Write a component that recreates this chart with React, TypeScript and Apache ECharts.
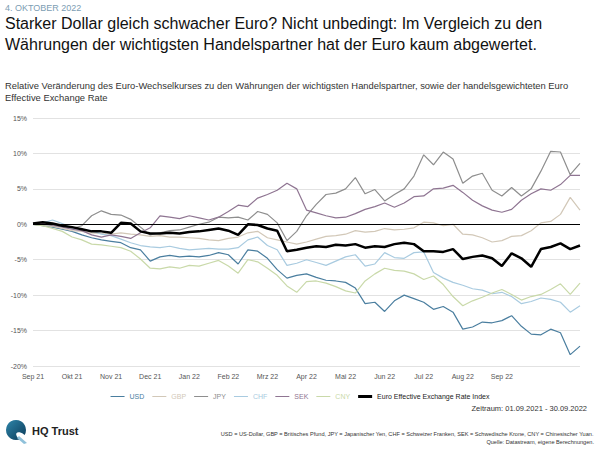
import React, { useEffect, useRef } from "react";
import * as echarts from "echarts";

const tickLabels = ["Sep 21", "Okt 21", "Nov 21", "Dec 21", "Jan 22", "Feb 22", "Mrz 22", "Apr 22", "Mai 22", "Jun 22", "Jul 22", "Aug 22", "Sep 22"];

const seriesNames = ["USD", "GBP", "JPY", "CHF", "SEK", "CNY", "Euro Effective Exchange Rate Index"];

const eer = [0.1, 0.3, 0.1, -0.2, -0.4, -0.7, -1.0, -1.0, -1.2, 0.2, 0.1, -1.0, -1.3, -1.3, -1.2, -1.3, -1.1, -1.0, -0.8, -0.6, -0.9, -1.5, 0.0, -0.1, -0.6, -0.9, -3.8, -3.6, -3.3, -3.1, -3.2, -2.9, -3.0, -2.8, -3.3, -3.1, -3.2, -2.8, -2.6, -2.8, -3.8, -3.8, -3.9, -3.5, -4.9, -4.6, -4.4, -4.8, -5.9, -4.1, -4.8, -6.0, -3.5, -3.2, -2.7, -3.5, -3.0];
const usd = [0, -0.2, -0.4, -0.7, -1.0, -1.5, -1.9, -2.2, -2.4, -2.6, -3.3, -3.6, -5.2, -4.6, -4.4, -4.6, -4.5, -4.6, -4.4, -4.0, -4.3, -5.6, -3.6, -3.8, -4.8, -6.4, -7.6, -7.2, -7.0, -7.5, -7.9, -8.0, -8.2, -9.0, -11.2, -11.0, -12.3, -10.8, -10.0, -10.5, -11.0, -12.0, -11.6, -12.4, -14.8, -14.5, -13.8, -13.9, -13.6, -12.9, -14.4, -15.5, -15.6, -14.8, -15.3, -18.4, -17.2];
const gbp = [0, -0.2, -0.3, -0.6, -0.9, -1.0, -1.2, -1.3, -1.4, -1.2, -1.4, -1.5, -1.7, -1.6, -1.8, -1.8, -1.9, -2.0, -2.2, -2.3, -2.0, -1.8, -1.2, -1.0, -1.9, -2.2, -2.5, -2.8, -2.5, -2.1, -1.7, -1.6, -1.4, -0.9, -1.1, -1.0, -0.6, -0.8, -0.7, -0.5, 0.3, 0.2, -0.2, 0.0, -1.4, -1.5, -1.9, -2.5, -2.3, -1.7, -1.6, -0.9, 0.2, 0.4, 1.4, 3.8, 2.0];
const jpy = [0, 0.1, -0.2, -0.3, -0.6, -0.2, 1.2, 1.9, 1.4, 1.3, 0.7, -0.4, -1.5, -1.2, -0.9, -0.8, -0.4, 0.0, 0.3, 1.0, 0.9, 1.0, 0.6, 1.8, 1.4, 0.2, -2.3, -1.0, 1.2, 2.8, 4.2, 4.4, 5.0, 6.6, 4.3, 4.9, 3.3, 4.2, 5.0, 6.8, 9.8, 8.4, 10.2, 9.2, 5.8, 6.8, 7.2, 4.8, 4.0, 5.2, 4.0, 5.0, 7.5, 10.3, 10.2, 7.0, 8.6];
const chf = [0, 0.2, 0.6, 0.1, -0.5, -0.8, -0.9, -1.4, -1.6, -2.1, -2.6, -3.0, -3.2, -3.3, -3.1, -3.4, -3.6, -3.5, -3.4, -3.5, -3.5, -3.3, -2.2, -1.8, -3.0, -3.6, -5.8, -5.5, -5.0, -5.4, -5.8, -5.2, -4.6, -4.3, -5.9, -5.6, -4.0, -4.7, -4.8, -4.0, -3.9, -6.8, -7.6, -8.2, -8.6, -9.1, -9.3, -9.8, -9.6, -10.2, -11.2, -10.9, -10.4, -10.6, -11.0, -12.4, -11.5];
const sek = [0, 0.1, -0.1, -0.4, -0.7, -0.9, -1.5, -1.8, -1.5, -1.7, -2.0, -1.2, -0.5, 1.2, 1.0, 0.8, 1.2, 0.9, 0.6, 1.0, 1.8, 2.7, 2.5, 3.7, 4.2, 4.8, 5.8, 5.0, 2.0, 1.6, 1.2, 0.9, 1.0, 1.5, 2.1, 2.5, 3.0, 2.4, 3.0, 3.9, 4.0, 5.0, 5.1, 5.5, 4.5, 3.4, 2.6, 2.0, 1.7, 2.1, 3.4, 4.3, 5.0, 4.8, 5.6, 6.9, 6.9];
const cny = [0, -0.2, -0.6, -1.0, -1.8, -2.2, -2.8, -2.9, -3.1, -3.3, -3.8, -4.9, -6.2, -6.3, -6.0, -6.2, -5.8, -5.9, -5.5, -5.1, -5.9, -6.9, -5.0, -5.3, -6.2, -7.2, -8.7, -9.6, -8.1, -8.0, -8.3, -8.8, -9.4, -9.7, -8.0, -7.0, -6.2, -6.5, -6.6, -7.0, -7.8, -7.3, -8.5, -10.2, -11.5, -10.8, -10.3, -9.7, -9.2, -9.9, -10.7, -10.2, -9.9, -9.2, -8.4, -9.9, -8.3];

const colors = ["#4a7e9f", "#d2c8b8", "#8e8e8e", "#a9cbe0", "#8f7592", "#c9d9a9", "#000000"];

const FONT = "'Liberation Sans', Arial, Helvetica, sans-serif";

const THIN_ICON = "path://M0,0h0.05v0.05h-0.05z M0,4.4h20v1.2h-20z M0,9.95h0.05v0.05h-0.05z";
const THICK_ICON = "path://M0,0h0.05v0.05h-0.05z M0,3h20v4h-20z M0,9.95h0.05v0.05h-0.05z";

export default function App() {
  const ref = useRef<HTMLDivElement>(null);
  useEffect(() => {
    document.body.style.margin = "0";
    if (!ref.current) return;
    const chart = echarts.init(ref.current, undefined, { renderer: "svg" });
    const values = [usd, gbp, jpy, chf, sek, cny, eer];
    const categories = usd.map((_, i) => String(i));
    const series: any[] = values.map((data, k) => ({
      name: seriesNames[k],
      type: "line",
      data,
      symbol: "none",
      showSymbol: false,
      lineStyle: { color: colors[k], width: k === 6 ? 2.5 : 1.2 },
      itemStyle: { color: colors[k] },
      z: k === 6 ? 5 : 2,
      markLine: k === 6 ? {
        silent: true,
        symbol: "none",
        label: { show: false },
        lineStyle: { color: "#000", width: 1, type: "solid" },
        data: [{ yAxis: 0 }],
      } : undefined,
    }));
    chart.setOption({
      animation: false,
      textStyle: { fontFamily: FONT },
      grid: { left: 33, right: 20, top: 118, height: 248, outerBoundsMode: "none" },
      xAxis: {
        type: "category",
        data: categories,
        boundaryGap: false,
        axisLine: { show: false },
        axisTick: { show: false },
        axisLabel: {
          interval: 0,
          fontSize: 7,
          color: "#555",
          margin: 7,
          fontFamily: FONT,
          formatter: (_v: string, idx: number) => (idx % 4 === 0 && tickLabels[idx / 4]) ? tickLabels[idx / 4] : "",
        },
        splitLine: { show: false },
      },
      yAxis: {
        type: "value",
        min: -20,
        max: 15,
        interval: 5,
        axisLine: { show: false },
        axisTick: { show: false },
        axisLabel: { fontSize: 7, color: "#555", margin: 6, formatter: "{value}%", fontFamily: FONT },
        splitLine: { lineStyle: { color: "#e2e2e2", width: 1 } },
      },
      legend: {
        left: "center",
        top: 388,
        itemWidth: 14,
        itemHeight: 8,
        itemGap: 8,
        textStyle: { fontSize: 7, fontFamily: FONT },
        data: seriesNames.map((n, k) => ({
          name: n,
          icon: k === 6 ? THICK_ICON : THIN_ICON,
          textStyle: { color: k === 6 ? "#222" : colors[k] },
        })),
      },
      graphic: [
        { type: "text", left: 5, top: 3, style: { text: "4. OKTOBER 2022", fontSize: 9, fill: "#7c9db3", fontFamily: FONT } },
        { type: "text", left: 5, top: 15, style: { text: "Starker Dollar gleich schwacher Euro? Nicht unbedingt: Im Vergleich zu den", fontSize: 16, fill: "#111", fontFamily: FONT } },
        { type: "text", left: 5, top: 36, style: { text: "Währungen der wichtigsten Handelspartner hat der Euro kaum abgewertet.", fontSize: 16, fill: "#111", fontFamily: FONT } },
        { type: "text", left: 5, top: 81, style: { text: "Relative Veränderung des Euro-Wechselkurses zu den Währungen der wichtigsten Handelspartner, sowie der handelsgewichteten Euro", fontSize: 9.4, fill: "#333", fontFamily: FONT } },
        { type: "text", left: 5, top: 93, style: { text: "Effective Exchange Rate", fontSize: 9.4, fill: "#333", fontFamily: FONT } },
        { type: "text", right: 13, top: 404, style: { text: "Zeitraum: 01.09.2021 - 30.09.2022", fontSize: 7.5, fill: "#333", fontFamily: FONT } },
        { type: "text", right: 6, top: 431, style: { text: "USD = US-Dollar, GBP = Britisches Pfund, JPY = Japanischer Yen, CHF = Schweizer Franken, SEK = Schwedische Krone, CNY = Chinesischer Yuan.", fontSize: 5.6, fill: "#333", fontFamily: FONT } },
        { type: "text", right: 6, top: 439, style: { text: "Quelle: Datastream, eigene Berechnungen.", fontSize: 5.6, fill: "#333", fontFamily: FONT } },
        {
          type: "group",
          children: [
            { type: "circle", shape: { cx: 16, cy: 430, r: 10 }, style: { fill: new echarts.graphic.LinearGradient(0, 0, 1, 1, [{ offset: 0, color: "#2f86aa" }, { offset: 1, color: "#0b3a58" }]) } },
            { type: "ellipse", shape: { cx: 22, cy: 437, rx: 6.5, ry: 3.2 }, rotation: -0.6, originX: 22, originY: 437, style: { fill: "#ffffff" } },
            { type: "polygon", shape: { points: [[19, 436], [27, 443], [24, 444], [17, 438]] }, style: { fill: "#8fc1da" } },
          ],
        },
        { type: "text", left: 32, top: 425, style: { text: "HQ Trust", fontSize: 11, fontWeight: "bold", fill: "#222", fontFamily: FONT } },
      ],
      series,
    });
    return () => chart.dispose();
  }, []);
  return <div ref={ref} style={{ width: 600, height: 450 }} />;
}
